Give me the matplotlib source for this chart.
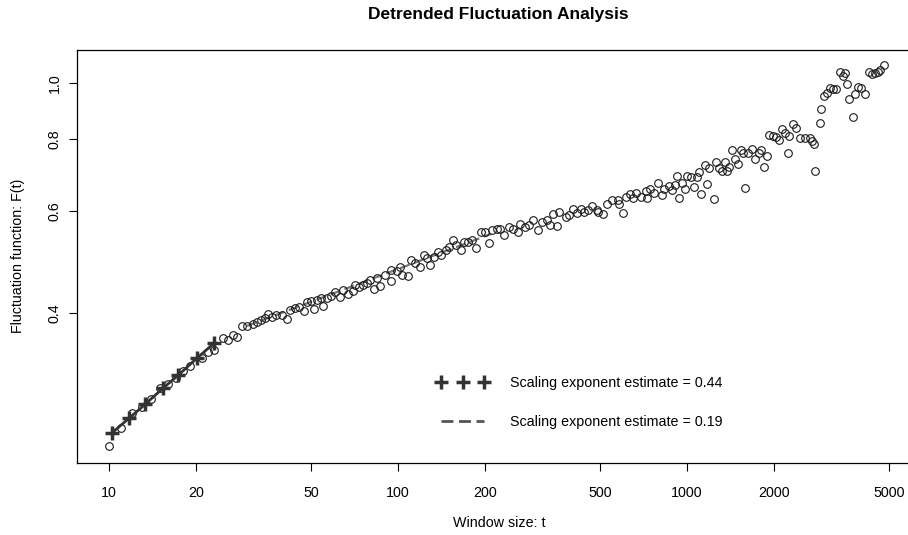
import numpy as np
import matplotlib
matplotlib.use("Agg")
import matplotlib.pyplot as plt
from matplotlib.lines import Line2D

plt.rcParams['font.family'] = ['Liberation Sans', 'DejaVu Sans']

# window sizes and fluctuation function
t_win = [10, 11, 12, 13, 14, 15, 16, 17, 18, 19, 21, 22, 23,
         24.7, 25.8, 26.8, 27.7, 28.8, 30.0, 31.4, 32.5, 33.5, 34.5,
         35.6, 36.5, 37.7, 39.5, 41.4, 42.2, 44.0, 45.5, 47.2, 48.5,
         50.1, 51.2, 52.3, 54.0, 55.1, 56.6, 58.4, 60.5, 62.8, 64.5,
         67.2, 69.6, 70.9, 73.4, 75.8, 77.9, 79.8, 82.4, 84.3, 86.9,
         90.0, 94.2, 94.9, 98.8, 101.5, 102.9, 108.6, 110.7, 114.8, 119.4,
         122.7, 126, 129.5, 133, 137, 141, 146, 150, 155, 159,
         165, 169, 175, 180, 186, 194, 200, 206, 212, 220,
         226, 232, 243, 249, 260, 264, 275, 285, 293, 306, 315, 327, 335,
         343, 355, 361, 380, 390, 404, 417, 430, 440, 455, 470, 487, 494,
         512, 527, 550, 575, 584, 601, 613, 634, 650, 668,
         694, 720, 730, 743, 767, 795, 822, 836, 865, 890,
         908, 922, 935, 958, 985, 1000, 1030, 1055, 1080, 1100,
         1120, 1155, 1175, 1190, 1240, 1265, 1290, 1320, 1350, 1380,
         1400, 1435, 1470, 1500, 1540, 1560, 1590, 1620, 1680, 1720,
         1770, 1810, 1850, 1890, 1920, 1980, 2040, 2080, 2130, 2180,
         2230, 2250, 2320, 2390, 2460, 2560, 2660, 2700, 2750, 2780,
         2880, 2920, 2990, 3050, 3120, 3200, 3290, 3380, 3470, 3530,
         3590, 3650, 3750, 3820, 3920, 4000, 4140, 4260, 4370, 4480,
         4600, 4660, 4810]
F_win = [0.236, 0.253, 0.269, 0.275, 0.284, 0.297, 0.302, 0.309, 0.318, 0.324, 0.334, 0.343, 0.345,
         0.362, 0.359, 0.367, 0.363, 0.380, 0.380, 0.383, 0.386, 0.389, 0.392,
         0.399, 0.394, 0.397, 0.397, 0.391, 0.405, 0.408, 0.410, 0.403, 0.418,
         0.420, 0.406, 0.421, 0.424, 0.412, 0.424, 0.428, 0.435, 0.427, 0.438,
         0.432, 0.437, 0.447, 0.443, 0.447, 0.450, 0.456, 0.441, 0.459, 0.445,
         0.465, 0.455, 0.475, 0.472, 0.481, 0.465, 0.463, 0.494, 0.488, 0.481,
         0.504, 0.497, 0.484, 0.500, 0.510, 0.504, 0.514, 0.521, 0.535, 0.524,
         0.514, 0.531, 0.531, 0.535, 0.519, 0.553, 0.553, 0.528, 0.556, 0.559,
         0.559, 0.545, 0.563, 0.558, 0.553, 0.571, 0.563, 0.567, 0.580, 0.556, 0.575, 0.580, 0.567,
         0.593, 0.565, 0.598, 0.585, 0.591, 0.604, 0.595, 0.604, 0.598, 0.602, 0.612, 0.602, 0.598,
         0.593, 0.617, 0.627, 0.628, 0.617, 0.595, 0.635, 0.642, 0.631, 0.645,
         0.635, 0.650, 0.631, 0.656, 0.645, 0.670, 0.640, 0.654, 0.663, 0.652,
         0.665, 0.690, 0.631, 0.670, 0.654, 0.691, 0.688, 0.661, 0.688, 0.702,
         0.642, 0.721, 0.668, 0.711, 0.629, 0.730, 0.711, 0.705, 0.730, 0.705,
         0.716, 0.765, 0.737, 0.724, 0.765, 0.757, 0.659, 0.756, 0.767, 0.737,
         0.757, 0.765, 0.714, 0.747, 0.812, 0.809, 0.805, 0.796, 0.831, 0.818,
         0.757, 0.809, 0.848, 0.834, 0.802, 0.802, 0.802, 0.794, 0.784, 0.705,
         0.851, 0.900, 0.948, 0.961, 0.978, 0.974, 0.974, 1.045, 1.027, 1.038,
         0.995, 0.936, 0.871, 0.956, 0.982, 0.978, 0.956, 1.045, 1.035, 1.038,
         1.045, 1.052, 1.073]

# short-range fit (exponent 0.44), drawn with crosses
fit1_t = [10.2, 11.7, 13.3, 15.4, 17.3, 20.1, 23.1]
fit1_F = [0.248, 0.263, 0.278, 0.297, 0.312, 0.334, 0.355]
# long-range fit (exponent 0.19), dashed
fit2_t = [30, 210]
fit2_F = [0.380, 0.548]

labels = ['Scaling exponent estimate = 0.44', 'Scaling exponent estimate = 0.19']
xticks = [10, 20, 50, 100, 200, 500, 1000, 2000, 5000]
yticks = [0.4, 0.6, 0.8, 1.0]

fig = plt.figure(figsize=(9.08, 5.35), dpi=100)
W, H = 908, 535
ax = fig.add_axes([77 / W, (H - 462.5) / H, (921 - 77) / W, (462.5 - 50) / H])
ax.set_xscale('log')
ax.set_yscale('log')

ax.plot(fit2_t, fit2_F, color='#777777', lw=1.6, ls=(0, (4.5, 2.2)), zorder=2)
ax.plot(t_win, F_win, ls='none', marker='o', ms=5.5, mfc='none', mec='#1a1a1a', mew=0.8, zorder=3)
ax.plot(fit1_t, fit1_F, color='#333333', lw=2.0, zorder=4)
ax.plot(fit1_t, fit1_F, ls='none', marker='+', ms=10, mew=2.5, color='#333333', zorder=5)

ax.set_xlim(7.74, 6457)
ax.set_ylim(0.2207, 1.139)

ax.minorticks_off()
ax.set_xticks(xticks)
ax.set_xticklabels([str(v) for v in xticks])
ax.set_yticks(yticks)
ax.set_yticklabels(['%.1f' % v for v in yticks], rotation=90, va='center')
ax.tick_params(axis='x', length=6, width=0.8, pad=11, labelsize=10.3)
ax.tick_params(axis='y', length=6, width=0.8, pad=5, labelsize=10.3)
for s in ax.spines.values():
    s.set_linewidth(0.9)

ax.set_xlabel('Window size: t', fontsize=10.3, labelpad=11.5)
ax.set_ylabel('Fluctuation function: F(t)', fontsize=10.3, labelpad=16)
fig.text(498 / W, 1 - 15 / H, 'Detrended Fluctuation Analysis', ha='center', va='center',
         fontsize=12.5, fontweight='bold')

handles = [Line2D([], [], ls='none', marker='+', ms=10, mew=2.5, color='#333333'),
           Line2D([], [], color='#555555', lw=2.0, ls=(0, (4.3, 2.0)))]
ax.legend(handles, labels, loc='upper left', bbox_to_anchor=((437 - 77) / 844, (462.5 - 376) / 412.5),
          frameon=False, numpoints=3, handlelength=3.6, handletextpad=1.5,
          labelspacing=1.75, borderpad=0, borderaxespad=0, fontsize=10.3)

fig.savefig('out.png', dpi=100)
